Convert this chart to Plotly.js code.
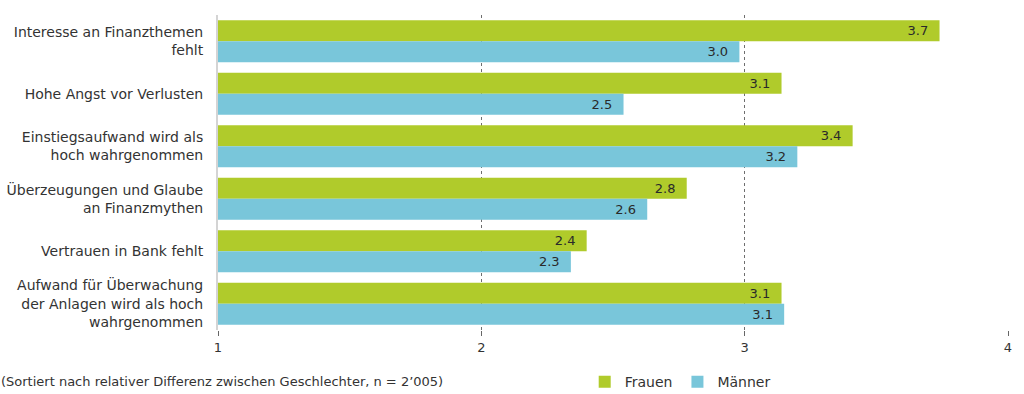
<!DOCTYPE html>
<html><head><meta charset="utf-8">
<script src="https://cdn.plot.ly/plotly-3.0.1.min.js"></script>
<style>body{margin:0;background:#fff}#c{width:1024px;height:394px}</style>
</head><body><div id="c"></div>
<script>
const categories = [
  "Interesse an Finanzthemen<br>fehlt",
  "Hohe Angst vor Verlusten",
  "Einstiegsaufwand wird als<br>hoch wahrgenommen",
  "Überzeugungen und Glaube<br>an Finanzmythen",
  "Vertrauen in Bank fehlt",
  "Aufwand für Überwachung<br>der Anlagen wird als hoch<br>wahrgenommen"
];
const frauen = [3.74, 3.14, 3.41, 2.78, 2.40, 3.14];
const maenner = [2.98, 2.54, 3.20, 2.63, 2.34, 3.15];
const tickVals = [1, 2, 3, 4];
const footnote = "(Sortiert nach relativer Differenz zwischen Geschlechter, n = 2’005)";

const font = "'DejaVu Sans', 'Noto Sans', sans-serif";
const mk = (name, vals, color) => ({
  type: 'bar', orientation: 'h', name: name, y: categories, x: vals,
  marker: {color: color, line: {width: 0}},
  texttemplate: '%{x:.1f}\u00a0\u00a0', textposition: 'inside', insidetextanchor: 'end',
  constraintext: 'none',
  textfont: {family: font, size: 13, color: '#2a2a2a'},
  cliponaxis: true, hoverinfo: 'skip'
});
const data = [mk('Frauen', frauen, '#b0cb2b'), mk('Männer', maenner, '#79c6da')];
const layout = {
  width: 1024, height: 394,
  margin: {l: 218, r: 16, t: 15, b: 64},
  paper_bgcolor: '#fff', plot_bgcolor: '#fff',
  barmode: 'group', bargap: 0.2, bargroupgap: 0,
  font: {family: font, size: 13, color: '#333'},
  xaxis: {range: [1, 4], tickvals: tickVals, showgrid: true, gridcolor: '#6e6e6e',
    griddash: 'dot', gridwidth: 1, zeroline: false, showline: false,
    ticks: 'outside', ticklen: 5, tickcolor: '#666',
    tickfont: {family: font, size: 13, color: '#333'}, fixedrange: true},
  yaxis: {autorange: 'reversed', showline: true, linecolor: '#d4d4d4', linewidth: 2,
    ticks: '', ticklabelstandoff: 10, showgrid: false,
    tickfont: {family: font, size: 14, color: '#333'}},
  showlegend: true,
  legend: {orientation: 'h', xref: 'container', yref: 'container',
    x: 0.571, y: 0.03, xanchor: 'left', yanchor: 'middle',
    font: {family: font, size: 14, color: '#333'}, traceorder: 'normal'},
  annotations: [{text: footnote, xref: 'paper', yref: 'paper', x: -0.2772, y: -0.165,
    xanchor: 'left', yanchor: 'middle', showarrow: false,
    font: {family: font, size: 13, color: '#333'}}]
};
Plotly.newPlot('c', data, layout, {displayModeBar: false, staticPlot: true});
</script></body></html>
